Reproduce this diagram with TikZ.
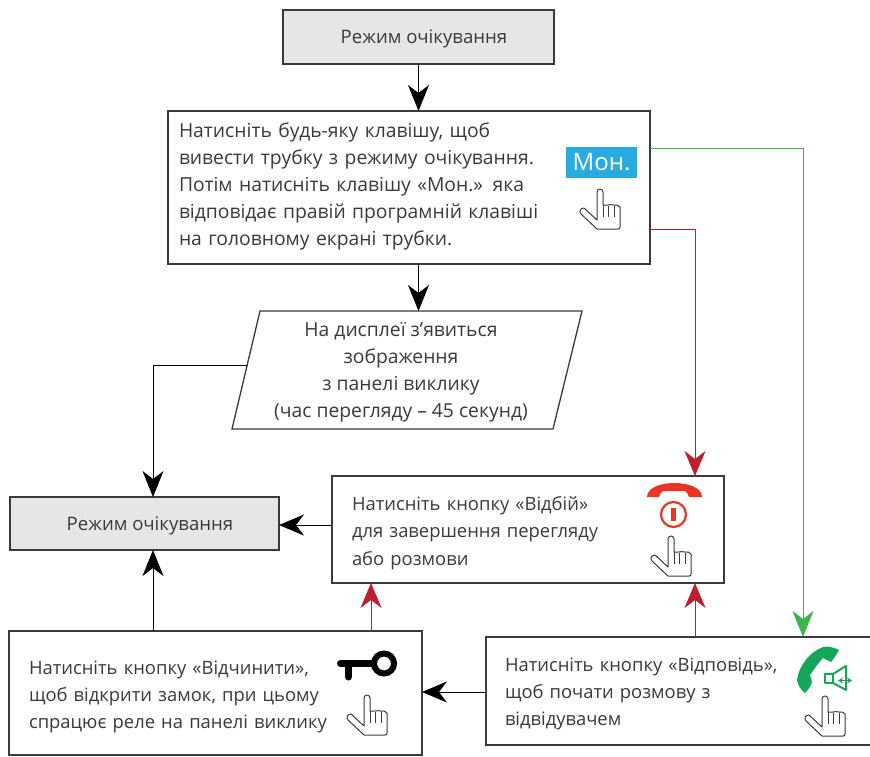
\documentclass[tikz,border=0pt]{standalone}
\usepackage{fontspec}
\setmainfont{Open Sans}
\usetikzlibrary{arrows.meta,calc}
\definecolor{ink}{HTML}{3A3A3A}
\definecolor{boxgray}{HTML}{E6E6E6}
\definecolor{monblue}{HTML}{29ABE2}
\definecolor{linkred}{HTML}{BE1E2D}
\definecolor{linkgreen}{HTML}{39B54A}
\definecolor{phonered}{HTML}{EB3326}
\definecolor{phonegreen}{HTML}{16A65A}
\newcommand{\largefont}{\fontsize{19.3}{27}\selectfont}
\newcommand{\smallfont}{\fontsize{18.4}{27.3}\selectfont}
\newcommand{\grayfont}{\fontsize{18.6}{27}\selectfont}
\tikzset{
  x=1pt,y=-1pt,
  box/.style={draw=ink,line width=1.3pt,fill=white,inner sep=0pt,outer sep=0pt,text=ink,font=\smallfont},
  graybox/.style={box,fill=boxgray,align=center,font=\grayfont},
  textbox/.style={box,align=left,anchor=north west},
  plain/.style={inner sep=0pt,text=ink,font=\largefont},
  blacklink/.style={draw=black,line width=1pt,-{Stealth[length=26pt,width=21pt,inset=8pt]}},
  smalllink/.style={draw=black,line width=1pt,-{Stealth[length=25pt,width=21pt,inset=8pt]}},
  redlink/.style={draw=linkred,line width=.9pt,-{Stealth[length=25pt,width=21pt,inset=8pt]}},
  greenlink/.style={draw=linkgreen,line width=.9pt,-{Stealth[length=26pt,width=21pt,inset=8pt]}},
  hand/.pic={
    \draw[draw=ink,line width=1pt,fill=white,line join=round]
      (-3,3) .. controls (-3,1) and (-1.5,0) .. (0,0) .. controls (1.5,0) and (3,1) .. (3,3)
      -- (3,16) -- (8,16) .. controls (9,15.5) and (12,15.5) .. (14,16) .. controls (16,15.5) and (19,16) .. (20,18)
      -- (20,38) .. controls (20,39.5) and (19.5,40) .. (18,40) -- (-3,40) -- (-19,25)
      .. controls (-21,23) and (-20,19) .. (-16,19) -- (-3,31) -- cycle;
    \draw[draw=ink,line width=1pt] (3,16) -- (3,28) (8.5,17) -- (8.5,28) (14,17) -- (14,28);
  }
}
\begin{document}
\begin{tikzpicture}
\useasboundingbox (0,0) rectangle (870,756);

\node[graybox,minimum width=271pt,minimum height=54pt] (top) at (418.5,37) {\hspace{11pt}\raisebox{-6pt}[0pt][0pt]{Режим очікування}};
\node[textbox,font=\largefont,minimum width=482pt,minimum height=153pt,text width=460pt,inner xsep=11pt] (press) at (168,111) {Натисніть будь-яку клавішу, щоб\\вивести трубку з режиму очікування.\\Потім натисніть клавішу «Мон.» яка\\відповідає правій програмній клавіші\\на головному екрані трубки.\rule[-7pt]{0pt}{7pt}};
\node[anchor=center,fill=monblue,text=white,minimum width=71pt,minimum height=31pt,inner sep=0pt,font=\fontsize{24}{24}\selectfont] (mon) at (601.5,162.5) {Мон.};
\pic at (600,189) {hand};

\draw[draw=ink,line width=1.3pt,fill=white] (260,311) -- (582,311) -- (553,429) -- (232,429) -- cycle;
\coordinate (dispwest) at (247,365);
\coordinate (dispnorth) at (418.5,311);
\node[plain,align=center] (disp) at (401,372.5) {На дисплеї з’явиться\\зображення\\з панелі виклику\\(час перегляду – 45 секунд)};

\node[graybox,minimum width=269pt,minimum height=53pt] (idle) at (144.5,523.5) {\hspace{11pt}\raisebox{-6.5pt}[0pt][0pt]{Режим очікування}};
\node[textbox,minimum width=392pt,minimum height=107pt,text width=352pt,inner xsep=20pt] (hang) at (332,476) {\rule{0pt}{21pt}Натисніть кнопку «Відбій»\\для завершення перегляду\\або розмови};
\node[textbox,minimum width=413pt,minimum height=124pt,text width=373pt,inner xsep=20pt] (open) at (9,631) {\rule{0pt}{21pt}Натисніть кнопку «Відчинити»,\\щоб відкрити замок, при цьому\\спрацює реле на панелі виклику};
\node[textbox,minimum width=390pt,minimum height=108pt,text width=352pt,inner xsep=19pt] (answer) at (486,637) {\rule{0pt}{19pt}Натисніть кнопку «Відповідь»,\\щоб почати розмову з\\відвідувачем};

% red handset and button
\fill[phonered] (647,497) .. controls (647,488) and (660,483) .. (674,483) .. controls (689,483) and (702,488) .. (702,497)
  -- (689,497) .. controls (688,494) and (687,492) .. (685,491) -- (663,491) .. controls (661,492) and (660,494) .. (659,497) -- cycle;
\draw[phonered,line width=2.2pt] (673.5,514.5) circle (12.5);
\fill[phonered] (671,508) rectangle (676,521);
\pic at (671,536) {hand};

% key
\draw[black,line width=6pt] (384,663.5) circle (10);
\draw[black,line width=7pt,line cap=round] (340.5,663.5) -- (373,663.5);
\draw[black,line width=7pt,line cap=round] (348.5,663.5) -- (348.5,677);
\pic at (367,695) {hand};

% green handset and speaker
\fill[phonegreen] (839,650) .. controls (833,647) and (828,646) .. (823,647) .. controls (810,652) and (799,665) .. (797,680)
  .. controls (798,686) and (801,690) .. (805,693) .. controls (808,690) and (811,686) .. (812,682) -- (810,675)
  .. controls (815,668) and (819,662) .. (823,658) -- (831,662) .. controls (834,658) and (837,654) .. (839,650) -- cycle;
\draw[phonegreen,line width=2pt,line join=round] (825,674) rectangle (833,683);
\draw[phonegreen,line width=2pt,line join=round] (833,674) -- (846,666) -- (846,690) -- (833,683);
\draw[phonegreen,line width=1.3pt,{Stealth[length=5pt,width=6pt]}-{Stealth[length=5pt,width=6pt]}] (838,680.5) -- (852,680.5);
\pic at (825,696) {hand};

% connector ports
\coordinate (pressred) at (650,229);
\coordinate (pressgreen) at (650,148);
\coordinate (redcol) at (695,300);
\coordinate (greencol) at (803,300);
\coordinate (opencol) at (371,600);
\coordinate (idlecol) at (153,600);
\coordinate (hangport) at (332,525);
\coordinate (answerport) at (486,692);

\draw[blacklink] (top.south) -- (press.north -| top.south);
\draw[blacklink] (press.south -| dispnorth) -- (dispnorth);
\draw[blacklink] (dispwest) -| (idlecol |- idle.north);
\draw[smalllink] (hangport) -- (hangport -| idle.east);
\draw[blacklink] (idlecol |- open.north) -- (idlecol |- idle.south);
\draw[smalllink] (answerport) -- (answerport -| open.east);
\draw[redlink] (opencol |- open.north) -- (opencol |- hang.south);
\draw[redlink] (redcol |- answer.north) -- (redcol |- hang.south);
\draw[redlink] (pressred) -| (redcol |- hang.north);
\draw[greenlink] (pressgreen) -| (greencol |- answer.north);
\end{tikzpicture}
\end{document}
